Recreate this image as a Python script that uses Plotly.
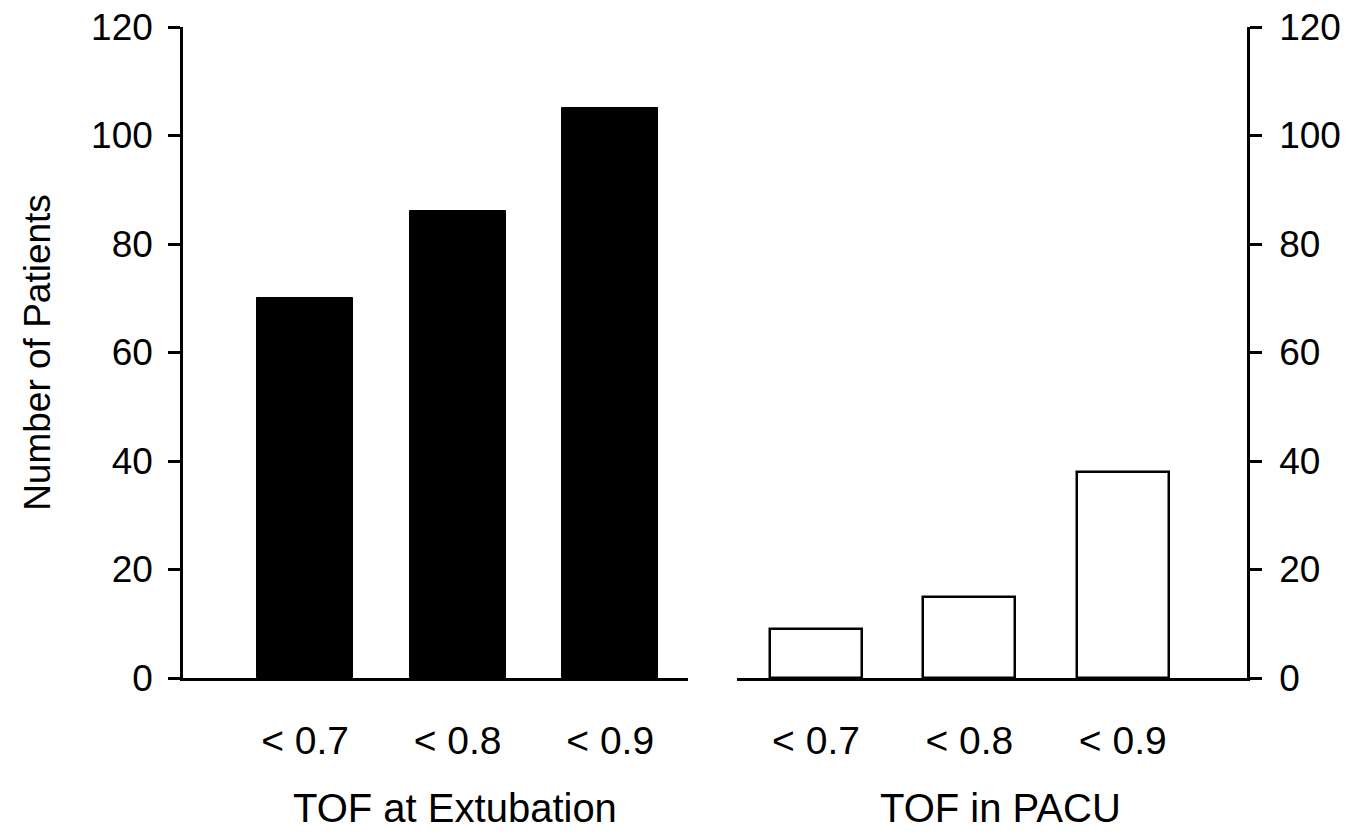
import plotly.graph_objects as go

categories = ["< 0.7", "< 0.8", "< 0.9"]
extubation_counts = [70, 86, 105]
pacu_counts = [9, 15, 38]
y_ticks = [0, 20, 40, 60, 80, 100, 120]
group_titles = ["TOF at Extubation", "TOF in PACU"]
y_title = "Number of Patients"

W, H = 1351, 836
TOP, BOTTOM = 27, 678
FONT = "Liberation Sans, Arial, sans-serif"

fig = go.Figure()
fig.add_trace(go.Bar(
    x=categories, y=extubation_counts, xaxis="x", yaxis="y",
    marker=dict(color="black", line=dict(color="black", width=1)),
    width=0.63, showlegend=False,
))
fig.add_trace(go.Bar(
    x=categories, y=pacu_counts, xaxis="x2", yaxis="y2",
    marker=dict(color="white", line=dict(color="black", width=2.5)),
    width=0.6, showlegend=False,
))

axis_common = dict(showline=True, linecolor="black", linewidth=2.5,
                   showgrid=False, zeroline=False)
tickfont = dict(family=FONT, size=37, color="black")
catfont = dict(family=FONT, size=39, color="black")

fig.update_layout(
    width=W, height=H,
    paper_bgcolor="white", plot_bgcolor="white",
    margin=dict(l=0, r=0, t=TOP, b=H - BOTTOM, autoexpand=False),
    font=dict(family=FONT, color="black"),
    bargap=0,
    xaxis=dict(domain=[183 / W, 688 / W], anchor="y", range=[-0.8, 2.51],
               type="category", ticks="", tickfont=catfont,
               ticklabelstandoff=26, **axis_common),
    yaxis=dict(domain=[0, 1], anchor="x", range=[0, 120], tickvals=y_ticks,
               ticks="outside", ticklen=12, tickwidth=2.5, tickcolor="black",
               tickfont=tickfont, ticklabelstandoff=8,
               title=dict(text=y_title, font=dict(family=FONT, size=37, color="black"),
                          standoff=30),
               **axis_common),
    xaxis2=dict(domain=[737 / W, 1247 / W], anchor="y2", range=[-0.515, 2.81],
                type="category", ticks="", tickfont=catfont,
                ticklabelstandoff=26, **axis_common),
    yaxis2=dict(domain=[0, 1], anchor="x2", side="right", range=[0, 120], tickvals=y_ticks,
                ticks="outside", ticklen=12, tickwidth=2.5, tickcolor="black",
                tickfont=tickfont, ticklabelstandoff=10, **axis_common),
)

title_y = (BOTTOM - 808) / (BOTTOM - TOP)
fig.add_annotation(text=group_titles[0], xref="paper", yref="paper",
                   x=455 / W, y=title_y, yanchor="middle", xanchor="center",
                   showarrow=False, font=dict(family=FONT, size=40, color="black"))
fig.add_annotation(text=group_titles[1], xref="paper", yref="paper",
                   x=1000 / W, y=title_y, yanchor="middle", xanchor="center",
                   showarrow=False, font=dict(family=FONT, size=40, color="black"))

fig.write_html("out.html")
